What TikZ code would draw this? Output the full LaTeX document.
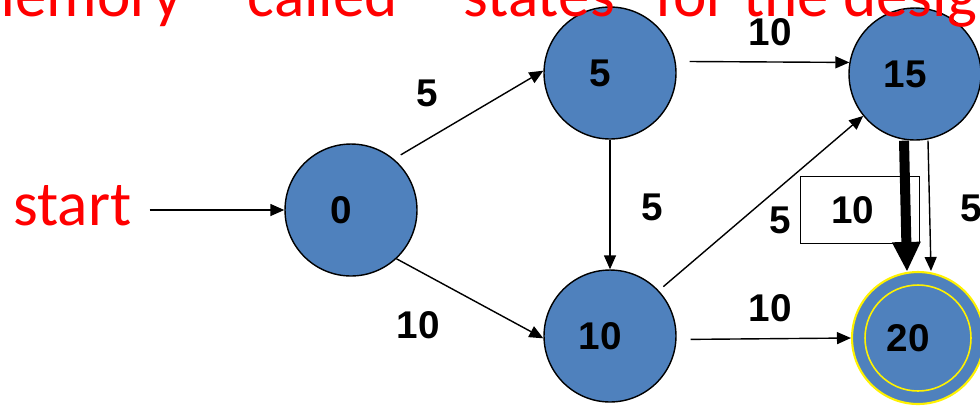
\documentclass[tikz,border=0pt]{standalone}
\usepackage{fontspec}
\setmainfont{Liberation Sans}
\newfontfamily\slidefont{Carlito}
\usetikzlibrary{arrows.meta}
\definecolor{stateblue}{HTML}{4F81BD}

\begin{document}
\begin{tikzpicture}[x=0.02cm, y=-0.02cm,
        state/.style={draw, fill=stateblue, line width=0.8pt, circle, minimum size=2.64cm, inner sep=0pt,
            font=\fontsize{22}{26}\selectfont\bfseries, execute at end node={\hspace{0.4cm}}},
        cost/.style={inner sep=0pt, font=\fontsize{22}{26}\selectfont\bfseries},
        edge/.style={line width=0.8pt, -{Triangle[width=0.24cm,length=0.28cm]}},
        heavy/.style={line width=0.2cm, -{Triangle[width=0.58cm,length=0.58cm,line width=0pt]}},
        slide/.style={text=red, inner sep=0pt, font=\slidefont\fontsize{36}{40}\selectfont}]
    \useasboundingbox (0,0) rectangle (980,407);

    \node[state] (n0)  at (351,210) {0};
    \node[state] (n5)  at (610,73)  {5};
    \node[state] (n10) at (610,336) {10};
    \node[state] (n15) at (915,74)  {15};
    \node[state, draw=yellow, line width=1.2pt] (n20) at (918,338) {20};
    \draw[yellow, line width=0.9pt] (n20.center) circle[radius=1.06cm];

    \node[slide, anchor=base west] (start) at (13,225) {start};

    \node[draw, fill=white, line width=0.8pt, minimum width=2.38cm, minimum height=1.34cm,
        cost, execute at end node={\hspace{0.3cm}}] (box) at (860,210) {10};

    \draw[edge, shorten <=0.36cm] (start.east |- n0) -- (n0);
    \draw[edge, shorten <=0.16cm] (n0.50)  -- (n5.178);
    \draw[edge]                   (n0.-47) -- (n10.182);
    \draw[edge]                   (n5)     -- (n10);
    \draw[edge, shorten <=0.28cm] (n5.10)  -- (n15.170);
    \draw[edge, shorten <=0.12cm] (n10.43) -- (n15.219);
    \draw[edge, shorten <=0.28cm] (n10.-3) -- (n20.west);
    \draw[heavy] ([xshift=-0.22cm]n15.south) -- ([xshift=-0.22cm]n20.north);
    \draw[edge]  ([xshift=0.26cm]n15.south)  -- ([xshift=0.26cm]n20.north);

    \node[cost] (c1) at (427,93)  {5};
    \node[cost] (c2) at (418,325) {10};
    \node[cost] (c3) at (652,207) {5};
    \node[cost] (c4) at (770,32)  {10};
    \node[cost] (c5) at (780,220) {5};
    \node[cost] (c6) at (770,308) {10};
    \node[cost] (c7) at (971,208) {5};

    \node[slide, anchor=base west] (title) at (-62,16) {“memory” “called” “states” for the design};
\end{tikzpicture}
\end{document}
